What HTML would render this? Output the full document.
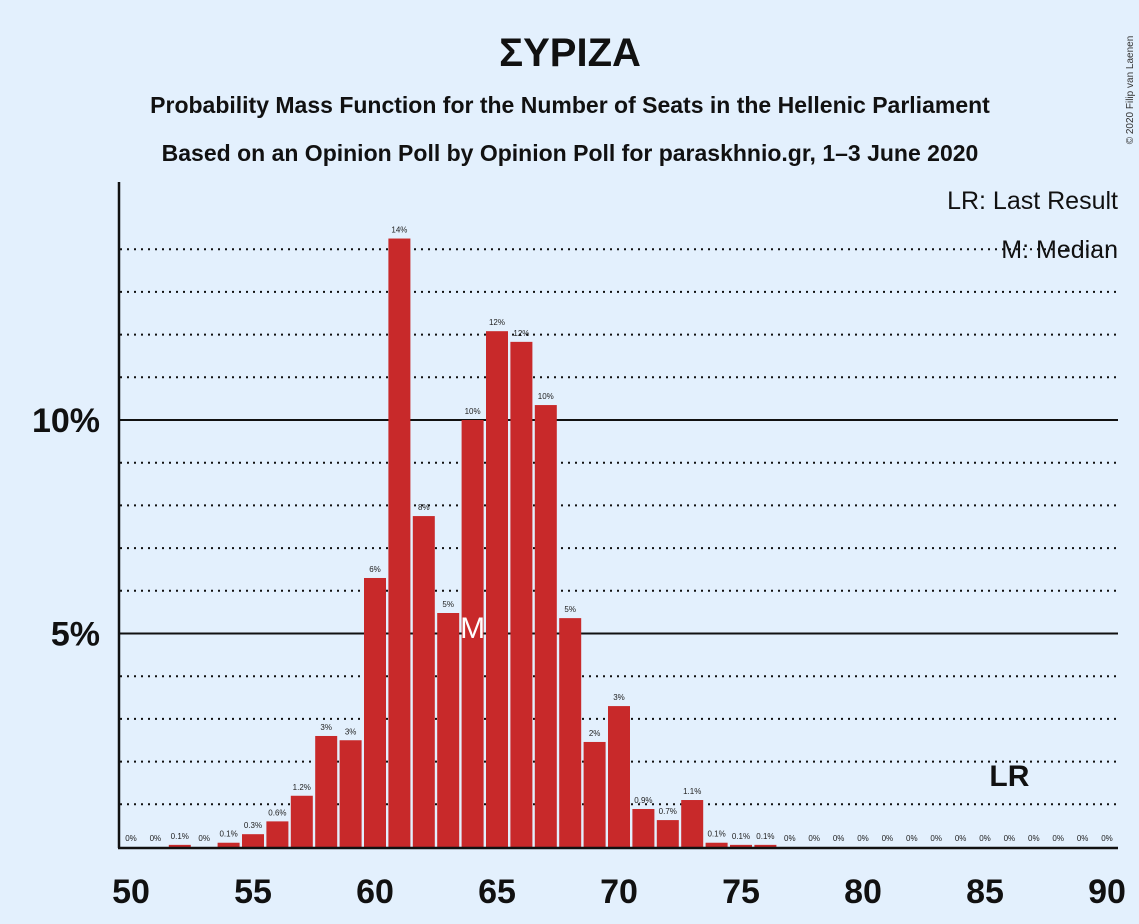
<!DOCTYPE html>
<html><head><meta charset="utf-8"><style>
body{margin:0;background:#e3f0fd;}
svg{display:block;font-family:"Liberation Sans",sans-serif;}
</style></head><body>
<svg id="chart" width="1139" height="924">
<rect width="1139" height="924" fill="#e3f0fd"/>
<text x="570" y="66" text-anchor="middle" font-size="40" font-weight="bold" fill="#111">ΣΥΡΙΖΑ</text>
<text x="570" y="113" text-anchor="middle" font-size="23" font-weight="bold" fill="#111">Probability Mass Function for the Number of Seats in the Hellenic Parliament</text>
<text x="570" y="161" text-anchor="middle" font-size="23" font-weight="bold" fill="#111">Based on an Opinion Poll by Opinion Poll for paraskhnio.gr, 1–3 June 2020</text>
<text x="1133" y="90" font-size="10" fill="#333" transform="rotate(-90 1133 90)" text-anchor="middle">© 2020 Filip van Laenen</text>
<g id="grid"></g><g id="bars"></g><g id="axes"></g>
<text x="1118" y="209" text-anchor="end" font-size="25" fill="#111">LR: Last Result</text>
<text x="1118" y="258" text-anchor="end" font-size="25" fill="#111">M: Median</text>
</svg>
<script>
const seats=[50,51,52,53,54,55,56,57,58,59,60,61,62,63,64,65,66,67,68,69,70,71,72,73,74,75,76,77,78,79,80,81,82,83,84,85,86,87,88,89,90];
const probs=[0,0,0.05,0,0.1,0.3,0.6,1.2,2.6,2.5,6.3,14.25,7.75,5.48,10,12.08,11.83,10.35,5.36,2.46,3.3,0.89,0.63,1.1,0.1,0.05,0.05,0,0,0,0,0,0,0,0,0,0,0,0,0,0];
const labels=["0%","0%","0.1%","0%","0.1%","0.3%","0.6%","1.2%","3%","3%","6%","14%","8%","5%","10%","12%","12%","10%","5%","2%","3%","0.9%","0.7%","1.1%","0.1%","0.1%","0.1%","0%","0%","0%","0%","0%","0%","0%","0%","0%","0%","0%","0%","0%","0%"];
const xTicks=[50,55,60,65,70,75,80,85,90];
const yTicks=[5,10];
const median=64, lastResult=86;
const NS='http://www.w3.org/2000/svg';
const x=s=>131+(s-50)*24.4;
const y=p=>847-p*42.7;
function mk(tag,attrs,parent,text){const e=document.createElementNS(NS,tag);for(const k in attrs)e.setAttribute(k,attrs[k]);if(text!==undefined)e.textContent=text;document.getElementById(parent).appendChild(e);return e;}
for(let p=1;p<=14;p++){if(p%5===0)continue;
 const g=mk('line',{x1:120,x2:1118,y1:y(p),y2:y(p),stroke:'#111','stroke-width':2,'stroke-dasharray':'2,5'},'grid');
 
 }
yTicks.forEach(t=>{
 const l=mk('line',{x1:120,x2:1118,y1:y(t),y2:y(t),stroke:'#111','stroke-width':2},'grid');
 
 
 const tx=mk('text',{x:100,y:y(t)+12,'text-anchor':'end','font-size':34,'font-weight':'bold',fill:'#111'},'axes',t+'%');
 
 });
seats.forEach((s,i)=>{
 const p=probs[i];
 if(p>0){const r=mk('rect',{x:x(s)-11,y:y(p),width:22,height:847-y(p),fill:'#c8292a'},'bars');
 
 }
 const t=mk('text',{x:x(s),y:y(p)-6,'text-anchor':'middle','font-size':8,fill:'#222'},'bars',labels[i]);
 
 });
const m=mk('text',{x:x(median),y:y(probs[seats.indexOf(median)])+218,'text-anchor':'middle','font-size':30,fill:'#fff'},'bars','M');


const lr=mk('text',{x:x(lastResult),y:786,'text-anchor':'middle','font-size':30,'font-weight':'bold',fill:'#111'},'bars','LR');


const ya=mk('line',{x1:119,x2:119,y1:182,y2:848,stroke:'#111','stroke-width':2.5},'axes');


const xa=mk('line',{x1:118,x2:1118,y1:848,y2:848,stroke:'#111','stroke-width':2.5},'axes');


xTicks.forEach(s=>{
 const t=mk('text',{x:x(s),y:903,'text-anchor':'middle','font-size':34,'font-weight':'bold',fill:'#111'},'axes',s);
 
 });
</script>
</body></html>
